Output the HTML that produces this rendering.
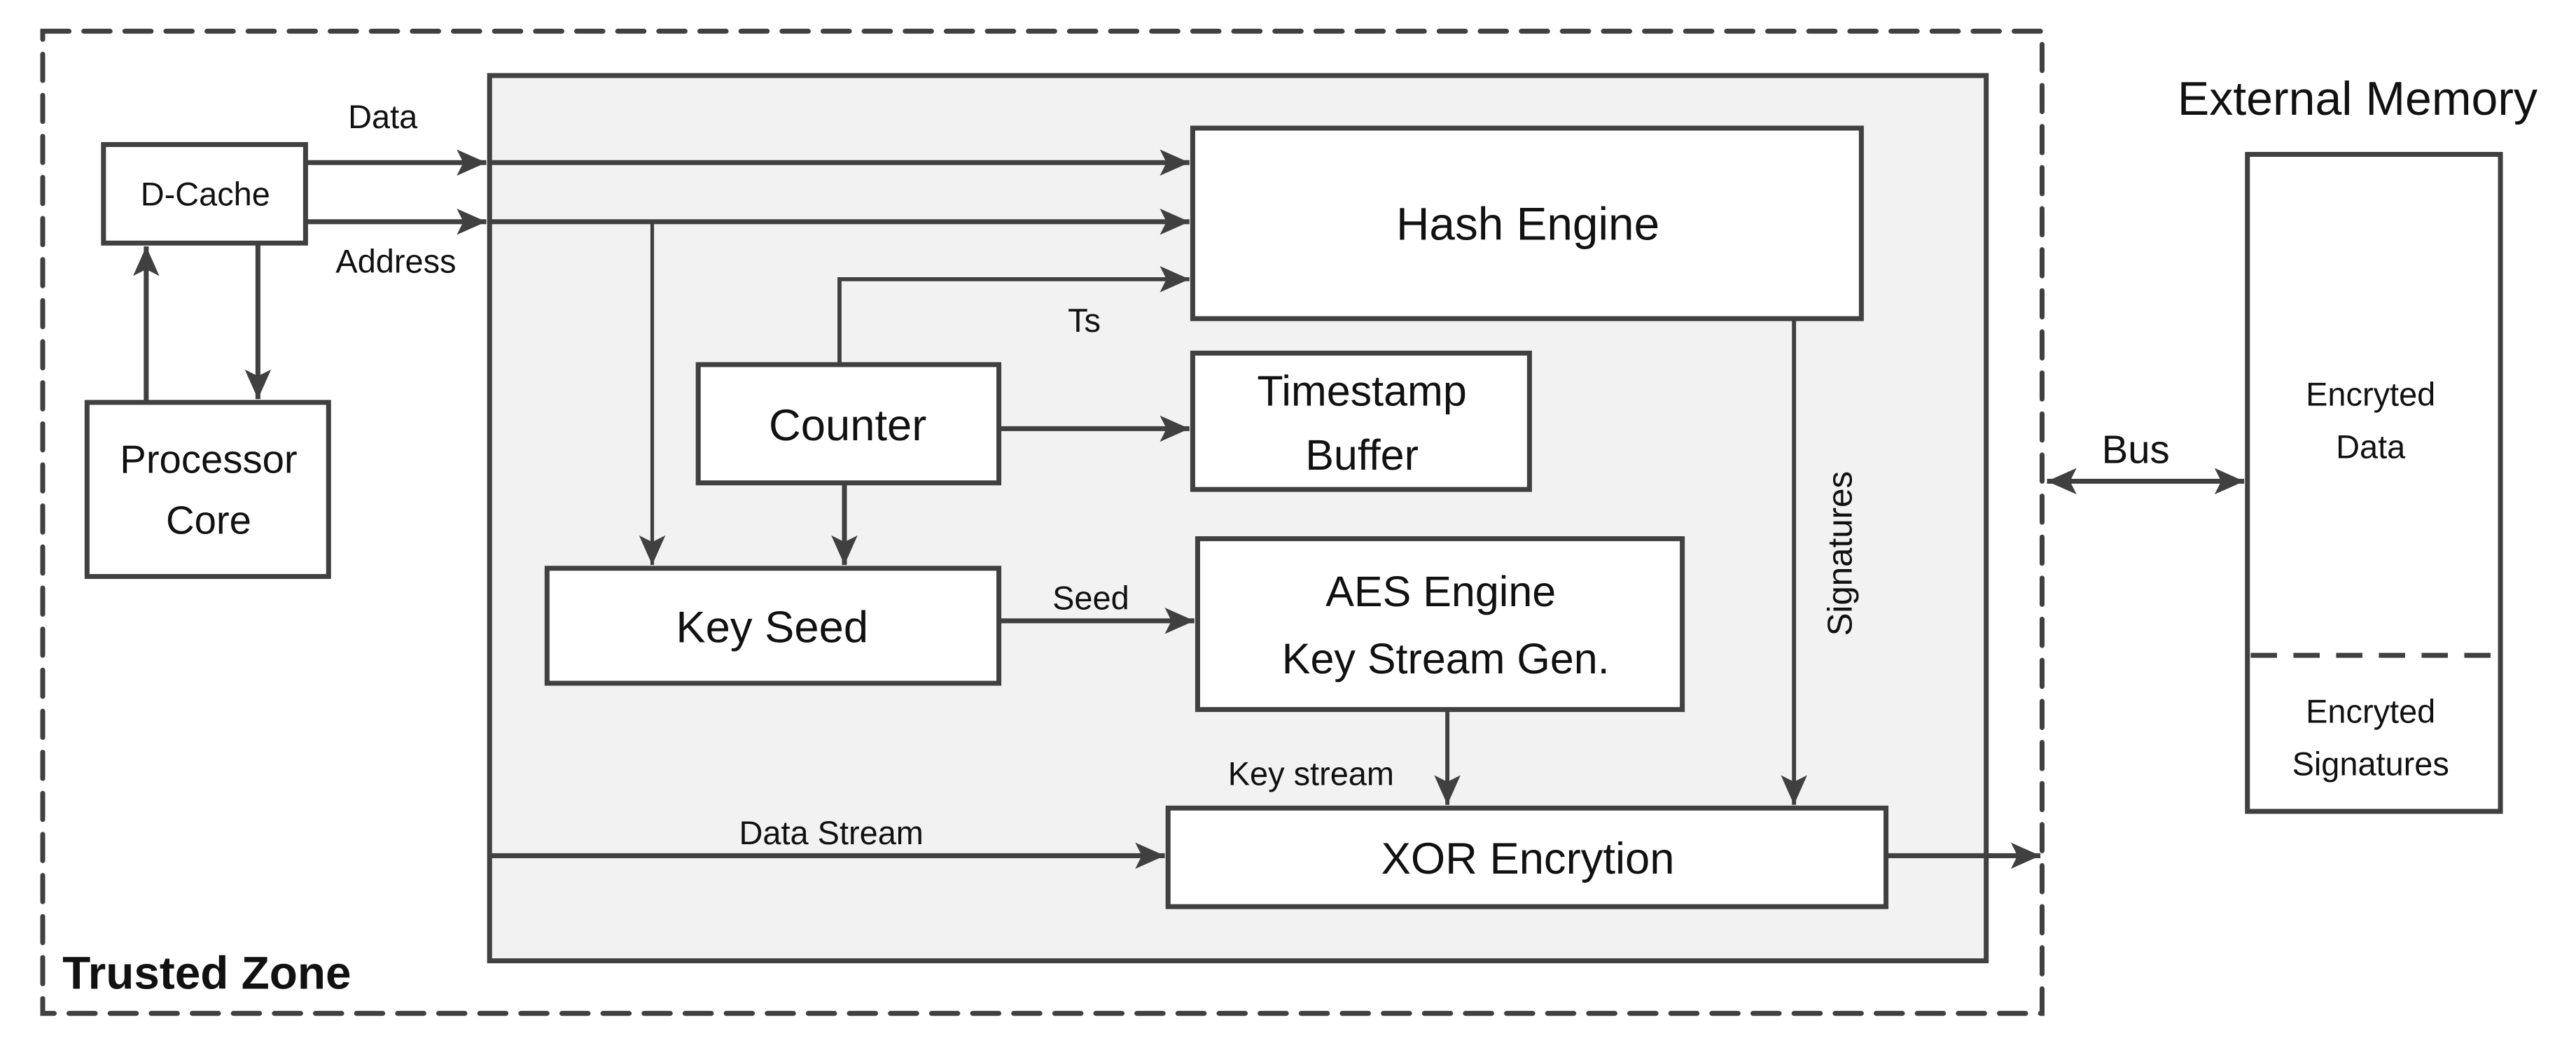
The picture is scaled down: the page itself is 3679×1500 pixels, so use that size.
<!DOCTYPE html>
<html><head><meta charset="utf-8"><style>
html,body{margin:0;padding:0;background:#fff;}
svg{display:block;}
text{font-family:"Liberation Sans",sans-serif;fill:#111;}
</style></head><body>
<svg width="3679" height="1500" viewBox="0 0 1568 639.3" preserveAspectRatio="none" xmlns="http://www.w3.org/2000/svg">
<defs>
<marker id="a" markerUnits="userSpaceOnUse" markerWidth="20" markerHeight="18" refX="18" refY="9" orient="auto-start-reverse">
<path d="M0,1 L18,9 L0,17 L4,9 Z" fill="#404040"/>
</marker>
</defs>
<rect width="1568" height="639.3" fill="#fff"/>
<rect x="26" y="19" width="1217" height="598" fill="none" stroke="#404040" stroke-width="3" stroke-dasharray="16,9" stroke-linecap="round"/>
<rect x="298" y="46" width="911" height="539" fill="#f2f2f2" stroke="#404040" stroke-width="3"/>
<g fill="#fff" stroke="#404040" stroke-width="3">
<rect x="63" y="88" width="123" height="60"/>
<rect x="53" y="245" width="147" height="106"/>
<rect x="726" y="78" width="407" height="116"/>
<rect x="425" y="222" width="183" height="72"/>
<rect x="726" y="215" width="205" height="83"/>
<rect x="333" y="346" width="275" height="70"/>
<rect x="729" y="328" width="295" height="104"/>
<rect x="711" y="492" width="437" height="60"/>
<rect x="1368" y="94" width="154" height="400"/>
</g>
<line x1="1370" y1="399" x2="1520" y2="399" stroke="#404040" stroke-width="3" stroke-dasharray="16,10"/>
<g stroke="#404040" stroke-width="3" fill="none">
<line x1="89" y1="245" x2="89" y2="150" marker-end="url(#a)"/>
<line x1="157" y1="148" x2="157" y2="243" marker-end="url(#a)"/>
<line x1="186" y1="99" x2="296" y2="99" marker-end="url(#a)"/>
<line x1="298" y1="99" x2="724" y2="99" marker-end="url(#a)"/>
<line x1="186" y1="135" x2="296" y2="135" marker-end="url(#a)"/>
<line x1="298" y1="135" x2="724" y2="135" marker-end="url(#a)"/>
<line x1="397" y1="135" x2="397" y2="344" stroke-width="2.2" marker-end="url(#a)"/>
<polyline points="511,222 511,170 724,170" stroke-width="2.5" marker-end="url(#a)"/>
<line x1="608" y1="261" x2="724" y2="261" marker-end="url(#a)"/>
<line x1="514" y1="294" x2="514" y2="344" marker-end="url(#a)"/>
<line x1="608" y1="378" x2="727" y2="378" marker-end="url(#a)"/>
<line x1="881" y1="432" x2="881" y2="490" stroke-width="2.5" marker-end="url(#a)"/>
<line x1="1092" y1="194" x2="1092" y2="490" stroke-width="2.5" marker-end="url(#a)"/>
<line x1="298" y1="521" x2="709" y2="521" marker-end="url(#a)"/>
<line x1="1148" y1="521" x2="1242" y2="521" marker-end="url(#a)"/>
<line x1="1246" y1="293" x2="1366" y2="293" marker-start="url(#a)" marker-end="url(#a)"/>
</g>
<g text-anchor="middle">
<text x="125" y="125" font-size="20">D-Cache</text>
<text x="127" y="288" font-size="24">Processor</text>
<text x="127" y="325" font-size="24">Core</text>
<text x="233" y="78" font-size="20">Data</text>
<text x="241" y="166" font-size="20">Address</text>
<text x="930" y="146" font-size="28">Hash Engine</text>
<text x="660" y="202" font-size="20">Ts</text>
<text x="516" y="268" font-size="27">Counter</text>
<text x="829" y="247" font-size="26">Timestamp</text>
<text x="829" y="286" font-size="26">Buffer</text>
<text x="470" y="391" font-size="27">Key Seed</text>
<text x="664" y="371" font-size="20">Seed</text>
<text x="877" y="369" font-size="26">AES Engine</text>
<text x="880" y="410" font-size="26">Key Stream Gen.</text>
<text x="798" y="478" font-size="20">Key stream</text>
<text x="506" y="514" font-size="20">Data Stream</text>
<text x="930" y="532" font-size="27">XOR Encrytion</text>
<text x="1300" y="282" font-size="24">Bus</text>
<text x="1435" y="70" font-size="29">External Memory</text>
<text x="1443" y="247" font-size="20">Encryted</text>
<text x="1443" y="279" font-size="20">Data</text>
<text x="1443" y="440" font-size="20">Encryted</text>
<text x="1443" y="472" font-size="20">Signatures</text>
<text x="0" y="0" font-size="21" transform="translate(1127,337) rotate(-90)">Signatures</text>
</g>
<text x="38" y="602" font-size="28" font-weight="bold">Trusted Zone</text>
</svg>
</body></html>
